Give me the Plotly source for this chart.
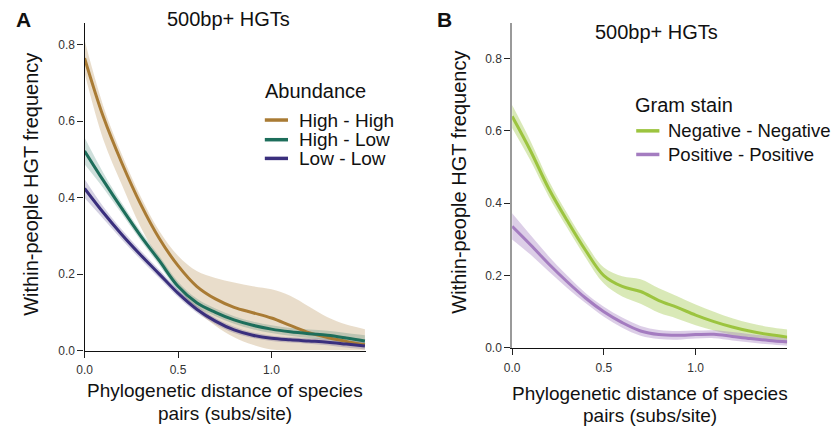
import plotly.graph_objects as go

# ---------------- data ----------------
dist = [0.0, 0.1, 0.2, 0.3, 0.4, 0.5, 0.6, 0.7, 0.8, 0.9, 1.0, 1.1, 1.2, 1.3, 1.4, 1.5]

# Panel A: Abundance
high_high = [0.765, 0.612, 0.490, 0.383, 0.293, 0.222, 0.168, 0.135, 0.113, 0.099, 0.085, 0.066, 0.047, 0.034, 0.024, 0.015]
high_high_hi = [0.812, 0.640, 0.512, 0.403, 0.313, 0.248, 0.208, 0.190, 0.178, 0.168, 0.160, 0.143, 0.115, 0.087, 0.068, 0.056]
high_high_lo = [0.726, 0.552, 0.433, 0.323, 0.236, 0.165, 0.105, 0.065, 0.035, 0.015, 0.003, 0.0, 0.0, 0.0, 0.0, 0.0]

high_low = [0.522, 0.445, 0.371, 0.300, 0.235, 0.168, 0.125, 0.100, 0.080, 0.066, 0.056, 0.049, 0.044, 0.040, 0.033, 0.025]
high_low_hi = [0.557, 0.465, 0.385, 0.312, 0.247, 0.180, 0.136, 0.110, 0.090, 0.076, 0.066, 0.059, 0.055, 0.052, 0.046, 0.040]
high_low_lo = [0.487, 0.425, 0.357, 0.288, 0.223, 0.156, 0.114, 0.090, 0.070, 0.056, 0.046, 0.039, 0.033, 0.028, 0.020, 0.010]

low_low = [0.424, 0.361, 0.303, 0.250, 0.200, 0.150, 0.108, 0.077, 0.054, 0.040, 0.032, 0.028, 0.025, 0.022, 0.017, 0.012]
low_low_hi = [0.449, 0.377, 0.316, 0.262, 0.211, 0.160, 0.117, 0.085, 0.062, 0.047, 0.039, 0.035, 0.032, 0.030, 0.026, 0.022]
low_low_lo = [0.399, 0.345, 0.290, 0.238, 0.189, 0.140, 0.099, 0.069, 0.046, 0.033, 0.025, 0.021, 0.018, 0.014, 0.008, 0.003]

# Panel B: Gram stain
neg_neg = [0.640, 0.545, 0.440, 0.352, 0.270, 0.200, 0.170, 0.156, 0.131, 0.112, 0.091, 0.073, 0.058, 0.046, 0.037, 0.030]
neg_neg_hi = [0.671, 0.572, 0.462, 0.372, 0.290, 0.222, 0.198, 0.190, 0.165, 0.143, 0.120, 0.100, 0.082, 0.068, 0.058, 0.051]
neg_neg_lo = [0.608, 0.518, 0.418, 0.332, 0.250, 0.178, 0.142, 0.122, 0.097, 0.081, 0.063, 0.048, 0.036, 0.026, 0.019, 0.012]

pos_pos = [0.336, 0.285, 0.232, 0.183, 0.138, 0.100, 0.070, 0.047, 0.037, 0.035, 0.037, 0.038, 0.032, 0.026, 0.021, 0.017]
pos_pos_hi = [0.372, 0.312, 0.253, 0.200, 0.152, 0.114, 0.084, 0.061, 0.050, 0.047, 0.048, 0.049, 0.044, 0.038, 0.033, 0.029]
pos_pos_lo = [0.300, 0.258, 0.211, 0.166, 0.124, 0.086, 0.056, 0.034, 0.025, 0.023, 0.026, 0.027, 0.021, 0.015, 0.010, 0.006]

x_ticks = [0.0, 0.5, 1.0]
x_tick_labels = ["0.0", "0.5", "1.0"]
y_ticks = [0.0, 0.2, 0.4, 0.6, 0.8]
y_tick_labels = ["0.0", "0.2", "0.4", "0.6", "0.8"]

title_text = "500bp+ HGTs"
y_title = "Within-people HGT frequency"
x_title_1 = "Phylogenetic distance of species"
x_title_2 = "pairs (subs/site)"

series_a = [
    ("High - High", high_high, high_high_lo, high_high_hi, "#a97b34", "rgba(171,124,53,0.26)"),
    ("High - Low", high_low, high_low_lo, high_low_hi, "#1d6e5b", "rgba(31,111,92,0.22)"),
    ("Low - Low", low_low, low_low_lo, low_low_hi, "#3a2f7d", "rgba(58,47,125,0.22)"),
]
series_b = [
    ("Negative - Negative", neg_neg, neg_neg_lo, neg_neg_hi, "#9cc43f", "rgba(152,196,60,0.37)"),
    ("Positive - Positive", pos_pos, pos_pos_lo, pos_pos_hi, "#a47cc0", "rgba(163,126,192,0.38)"),
]

FONT = "Liberation Sans, Arial, Helvetica, sans-serif"
W, H = 834, 433

fig = go.Figure()

def add_series(series, xa, ya):
    for name, mid, lo, hi, col, fill in series:
        fig.add_trace(go.Scatter(x=dist, y=lo, mode="lines", line=dict(width=0, shape="spline", smoothing=1.0),
                                 xaxis=xa, yaxis=ya, showlegend=False, hoverinfo="skip"))
        fig.add_trace(go.Scatter(x=dist, y=hi, mode="lines", line=dict(width=0, shape="spline", smoothing=1.0),
                                 fill="tonexty", fillcolor=fill,
                                 xaxis=xa, yaxis=ya, showlegend=False, hoverinfo="skip"))
    for name, mid, lo, hi, col, fill in series:
        fig.add_trace(go.Scatter(x=dist, y=mid, mode="lines", name=name,
                                 line=dict(width=3, color=col, shape="spline", smoothing=1.0),
                                 xaxis=xa, yaxis=ya, showlegend=False))

add_series(series_a, "x", "y")
add_series(series_b, "x2", "y2")

def px(x):
    return x / W

def py(y):
    return 1 - y / H

axis_common = dict(showgrid=False, zeroline=False, ticks="outside", ticklen=6, tickwidth=1.2,
                   tickcolor="#222", tickfont=dict(family=FONT, size=12, color="#333"), showline=True)

fig.update_layout(
    width=W, height=H, margin=dict(l=0, r=0, t=0, b=0),
    paper_bgcolor="white", plot_bgcolor="white", showlegend=False,
    xaxis=dict(domain=[px(77.3), px(361.7)], range=[0, 1.507], anchor="y", ticklabelstandoff=2,
               tickvals=x_ticks, ticktext=x_tick_labels, linecolor="#111", linewidth=1.3, **axis_common),
    yaxis=dict(domain=[py(356.3), py(23.3)], range=[0, 0.857], anchor="x",
               tickvals=y_ticks, ticktext=y_tick_labels, linecolor="#111", linewidth=1.3, **axis_common),
    xaxis2=dict(domain=[px(509), px(786.7)], range=[0, 1.499], anchor="y2", ticklabelstandoff=2,
                tickvals=x_ticks, ticktext=x_tick_labels, linecolor="#111", linewidth=1.3, **axis_common),
    yaxis2=dict(domain=[py(353.7), py(23.3)], range=[0, 0.898], anchor="x2",
                tickvals=y_ticks, ticktext=y_tick_labels, linecolor="#9a9a9a", linewidth=1.8, **axis_common),
)

ann = []

def text(x, y, s, size, xanchor="center", angle=0, bold=False, color="#111"):
    ann.append(dict(x=px(x), y=py(y), xref="paper", yref="paper", text=("<b>%s</b>" % s) if bold else s,
                    showarrow=False, xanchor=xanchor, yanchor="middle", textangle=angle,
                    font=dict(family=FONT, size=size, color=color)))

# panel letters and titles
text(16, 20, "A", 21, bold=True)
text(441, 20, "B", 21, bold=True)
text(223, 19, title_text, 20)
text(655, 33, title_text, 20)
# axis titles
text(23, 187, y_title, 20, angle=-90)
text(455, 185, y_title, 20, angle=-90)
text(219.5, 397, x_title_1, 19)
text(219.5, 420, x_title_2, 19)
text(648, 400, x_title_1, 19)
text(648, 422, x_title_2, 19)

# legends
shapes = []

def legend(title, tx, ty, items, lx0, lx1, ys, tx_items, size_items):
    text(tx, ty, title, 20, xanchor="left")
    for (name, mid, lo, hi, col, fill), yy in zip(items, ys):
        shapes.append(dict(type="line", xref="paper", yref="paper", x0=px(lx0), x1=px(lx1), y0=py(yy), y1=py(yy),
                           line=dict(color=col, width=3.5)))
        text(tx_items, yy, name, size_items, xanchor="left")

legend("Abundance", 257, 92, series_a, 259.3, 282.7, [122, 142, 161], 292, 19)
legend("Gram stain", 631, 107, series_b, 634.3, 657.7, [133, 157], 664, 18.5)

fig.update_layout(annotations=ann, shapes=shapes)
fig.write_html("out.html")
